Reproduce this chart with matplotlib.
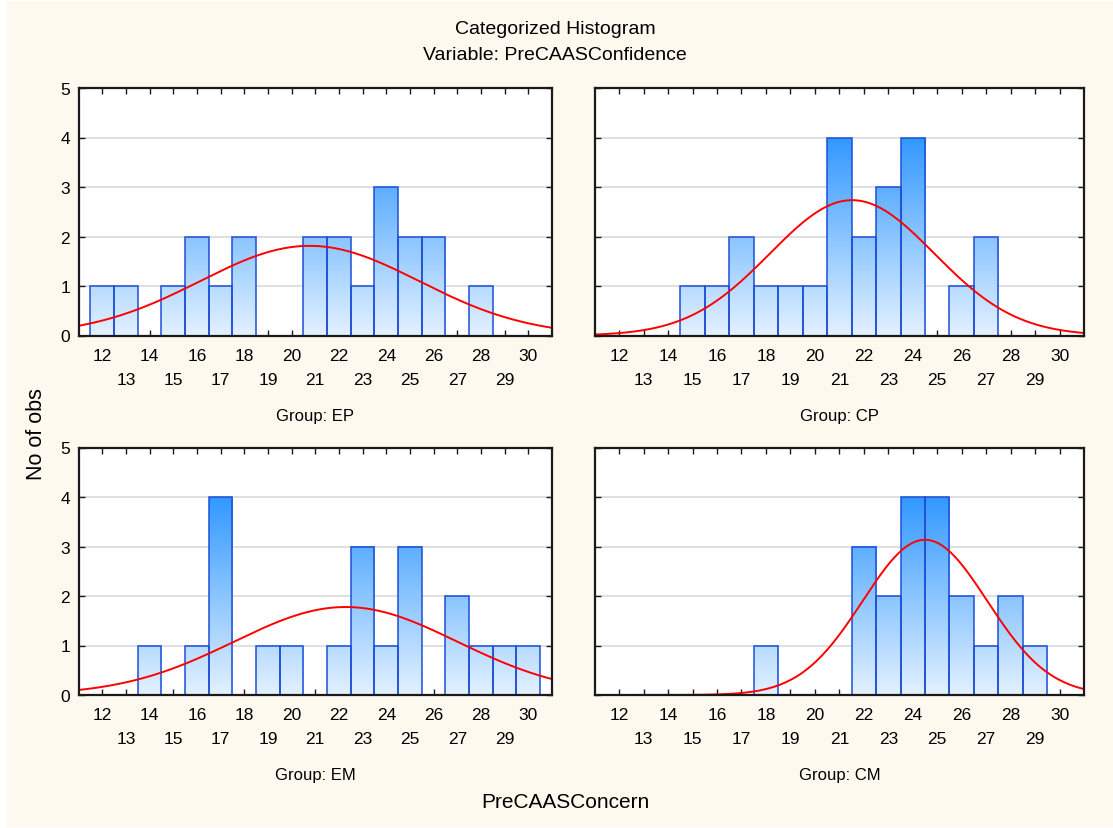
import matplotlib
matplotlib.use("Agg")
import matplotlib.pyplot as plt
from matplotlib.colors import LinearSegmentedColormap
from matplotlib.patches import Rectangle
import numpy as np

plt.rcParams['font.family'] = ['Liberation Sans', 'DejaVu Sans']

# values of PreCAASConcern (bin centres, width 1)
bins = np.arange(12, 31)

ep_counts = [1, 1, 0, 1, 2, 1, 2, 0, 0, 2, 2, 1, 3, 2, 2, 0, 1, 0, 0]
cp_counts = [0, 0, 0, 1, 1, 2, 1, 1, 1, 4, 2, 3, 4, 0, 1, 2, 0, 0, 0]
em_counts = [0, 0, 1, 0, 1, 4, 0, 1, 1, 0, 1, 3, 1, 3, 0, 2, 1, 1, 1]
cm_counts = [0, 0, 0, 0, 0, 0, 1, 0, 0, 0, 3, 2, 4, 4, 2, 1, 2, 1, 0]

groups = ["EP", "CP", "EM", "CM"]
counts = [ep_counts, cp_counts, em_counts, cm_counts]

title1 = "Categorized Histogram"
title2 = "Variable: PreCAASConfidence"
xlabel = "PreCAASConcern"
ylabel = "No of obs"

W, H = 1113, 829
cream = '#FDF9EF'
edge = '#1C4ED8'
grad = LinearSegmentedColormap.from_list('grad', ['#E3F1FF', '#3399FF'])

fig = plt.figure(figsize=(W / 100, H / 100), dpi=100, facecolor='white')
fig.patches.append(Rectangle((7 / W, 1 / H), 1, 1 - 3 / H, transform=fig.transFigure,
                             facecolor=cream, edgecolor='none', zorder=-10))

# axes boxes in pixels: left, right, top, bottom
boxes = [(78.5, 552, 89, 336.5), (594.7, 1084, 89, 336.5),
         (78.5, 552, 448.5, 696), (594.7, 1084, 448.5, 696)]


def px_ax(l, r, t, b):
    return [l / W, 1 - b / H, (r - l) / W, (b - t) / H]


for k, (grp, cnt) in enumerate(zip(groups, counts)):
    l, r, t, b = boxes[k]
    ax = fig.add_axes(px_ax(l, r, t, b))
    ax.set_facecolor('white')
    cnt = np.array(cnt)

    for y in range(1, 5):
        ax.axhline(y, color='#DADADA', lw=1.2, zorder=1)

    for x, h in zip(bins, cnt):
        if h == 0:
            continue
        g = np.linspace(0, h, 100).reshape(-1, 1)
        ax.imshow(g, extent=(x - 0.5, x + 0.5, 0, h), origin='lower', cmap=grad,
                  vmin=0, vmax=4, aspect='auto', zorder=2, interpolation='bilinear')
    ax.bar(bins, cnt, width=1, fill=False, edgecolor=edge, linewidth=1.1, zorder=3)

    # fitted normal curve
    vals = np.repeat(bins, cnt)
    mu, sd = vals.mean(), vals.std(ddof=1)
    xs = np.linspace(11, 31, 400)
    ys = len(vals) * np.exp(-0.5 * ((xs - mu) / sd) ** 2) / (sd * np.sqrt(2 * np.pi))
    ax.plot(xs, ys, color='#FF0000', lw=1.4, zorder=4)

    ax.set_xlim(11, 31)
    ax.set_ylim(0, 5)
    ax.set_xticks(np.arange(12, 31, 2))
    ax.set_xticks(np.arange(13, 30, 2), minor=True)
    ax.set_xticklabels([str(v) for v in range(12, 31, 2)])
    ax.set_xticklabels([str(v) for v in range(13, 30, 2)], minor=True)
    ax.set_yticks(range(0, 6))
    ax.tick_params(axis='x', which='major', direction='in', length=4, width=1,
                   top=True, pad=9, labelsize=12.5, colors='#1A1A1A', labelcolor='black')
    ax.tick_params(axis='x', which='minor', direction='in', length=4, width=1,
                   top=True, pad=26, labelsize=12.5, colors='#1A1A1A', labelcolor='black')
    ax.tick_params(axis='y', direction='in', length=4, width=1, right=True,
                   pad=6, labelsize=12.5, colors='#1A1A1A', labelcolor='black')
    if k % 2 == 1:
        ax.set_yticklabels([])
    for s in ax.spines.values():
        s.set_color('#1A1A1A')
        s.set_linewidth(1.6)
        s.set_zorder(5)

    fig.text((l + r) / 2 / W, 1 - (b + 80) / H, "Group: " + grp,
             ha='center', va='center', fontsize=12)

fig.text(555 / W, 1 - 30 / H, title1, ha='center', va='center', fontsize=14)
fig.text(555 / W, 1 - 56 / H, title2, ha='center', va='center', fontsize=14)
fig.text(565 / W, 1 - 803 / H, xlabel, ha='center', va='center', fontsize=15)
fig.text(36 / W, 1 - 434 / H, ylabel, ha='center', va='center', fontsize=15.5,
         rotation=90)

fig.savefig('out.png', dpi=100, facecolor='white')
